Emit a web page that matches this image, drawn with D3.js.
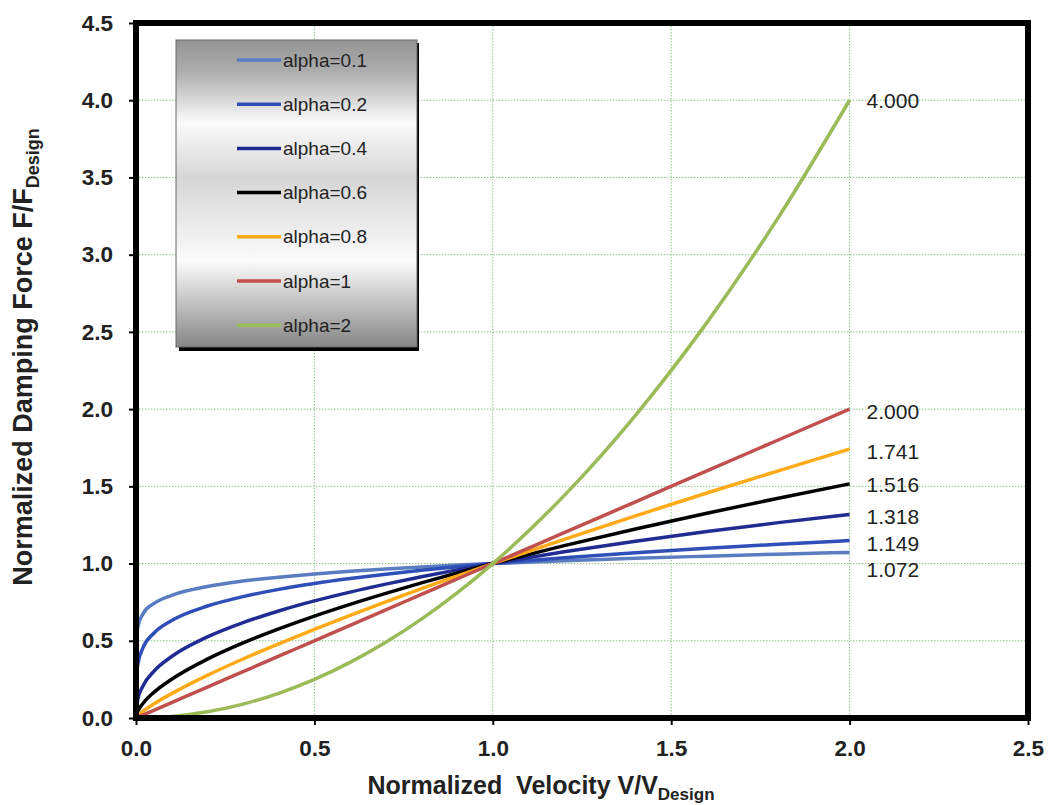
<!DOCTYPE html>
<html>
<head>
<meta charset="utf-8">
<script src="https://cdn.jsdelivr.net/npm/d3@7"></script>
<style>
  body { margin: 0; background: #fff; }
  text { font-family: Arial, "Liberation Sans", sans-serif; }
</style>
</head>
<body>
<svg id="chart" width="1050" height="805"></svg>
<script>
// velocity points read along the x axis
var velocity = [0, 0.001, 0.005, 0.02, 0.05, 0.1, 0.2, 0.3, 0.4, 0.5, 0.6, 0.7, 0.8, 0.9, 1.0, 1.2, 1.4, 1.6, 1.8, 2.0];

// force values
var force01 = [0, 0.50, 0.59, 0.676, 0.741, 0.794, 0.851, 0.887, 0.912, 0.933, 0.950, 0.965, 0.978, 0.990, 1, 1.018, 1.034, 1.048, 1.061, 1.072];
var force02 = [0, 0.25, 0.347, 0.457, 0.549, 0.631, 0.725, 0.786, 0.833, 0.871, 0.903, 0.931, 0.956, 0.979, 1, 1.037, 1.070, 1.099, 1.125, 1.149];
var force04 = [0, 0.063, 0.12, 0.209, 0.302, 0.398, 0.525, 0.618, 0.693, 0.758, 0.815, 0.867, 0.915, 0.959, 1, 1.076, 1.144, 1.207, 1.265, 1.318];
var force06 = [0, 0.016, 0.042, 0.096, 0.166, 0.251, 0.381, 0.486, 0.577, 0.660, 0.736, 0.807, 0.875, 0.939, 1, 1.116, 1.224, 1.326, 1.423, 1.516];
var force08 = [0, 0.004, 0.014, 0.044, 0.091, 0.158, 0.276, 0.382, 0.480, 0.574, 0.665, 0.752, 0.837, 0.919, 1, 1.157, 1.309, 1.457, 1.600, 1.741];
var force1  = [0, 0.001, 0.005, 0.02, 0.05, 0.1, 0.2, 0.3, 0.4, 0.5, 0.6, 0.7, 0.8, 0.9, 1, 1.2, 1.4, 1.6, 1.8, 2.0];
var force2  = [0, 0, 0, 0.0004, 0.0025, 0.01, 0.04, 0.09, 0.16, 0.25, 0.36, 0.49, 0.64, 0.81, 1, 1.44, 1.96, 2.56, 3.24, 4.0];

var seriesNames = ["alpha=0.1", "alpha=0.2", "alpha=0.4", "alpha=0.6", "alpha=0.8", "alpha=1", "alpha=2"];
var seriesColors = ["#5a7cc0", "#2f4fb8", "#202c92", "#000000", "#ffaa16", "#c0504d", "#9bbb59"];
var allForces = [force01, force02, force04, force06, force08, force1, force2];
var endLabels = ["1.072", "1.149", "1.318", "1.516", "1.741", "2.000", "4.000"];

var xTicks = [0, 0.5, 1.0, 1.5, 2.0, 2.5];
var yTicks = [0, 0.5, 1.0, 1.5, 2.0, 2.5, 3.0, 3.5, 4.0, 4.5];

var svg = d3.select("#chart"),
    plotLeft = 136, plotRight = 1028, plotTop = 23, plotBottom = 718;

var x = d3.scaleLinear().domain([0, 2.5]).range([plotLeft, plotRight]);
var y = d3.scaleLinear().domain([0, 4.5]).range([plotBottom, plotTop]);

// grid
var grid = svg.append("g");
grid.selectAll(".gx").data(xTicks.slice(1, -1)).enter().append("line")
    .attr("x1", function(d) { return x(d); }).attr("x2", function(d) { return x(d); })
    .attr("y1", plotTop).attr("y2", plotBottom)
    .attr("stroke", "#8fc48f").attr("stroke-width", 1).attr("stroke-dasharray", "1.5,1.5");
grid.selectAll(".gy").data(yTicks.slice(1, -1)).enter().append("line")
    .attr("y1", function(d) { return y(d); }).attr("y2", function(d) { return y(d); })
    .attr("x1", plotLeft).attr("x2", plotRight)
    .attr("stroke", "#8fc48f").attr("stroke-width", 1).attr("stroke-dasharray", "1.5,1.5");

// curves
var line = d3.line()
    .x(function(d, i) { return x(velocity[i]); })
    .y(function(d) { return y(d); })
    .curve(d3.curveMonotoneX);

svg.append("g").selectAll("path")
    .data(allForces)
    .enter().append("path")
    .attr("d", line)
    .attr("fill", "none")
    .attr("stroke", function(d, i) { return seriesColors[i]; })
    .attr("stroke-width", 3.5);

// end value labels
svg.append("g").selectAll("text")
    .data(allForces)
    .enter().append("text")
    .attr("x", x(2.0) + 17)
    .attr("y", function(d, i) {
        var v = d[d.length - 1];
        // labels nudged apart where the curves crowd
        var shift = [17.5, 2.5, 2, 1, 2.5, 2.5, 0][i];
        return y(v) + 7.5 + shift;
    })
    .attr("font-size", 21).attr("fill", "#222")
    .text(function(d, i) { return endLabels[i]; });

// frame
svg.append("rect")
    .attr("x", plotLeft).attr("y", plotTop)
    .attr("width", plotRight - plotLeft).attr("height", plotBottom - plotTop)
    .attr("fill", "none").attr("stroke", "#000").attr("stroke-width", 6);

// axes
var xAxis = svg.append("g").attr("transform", "translate(0," + plotBottom + ")")
    .call(d3.axisBottom(x).tickValues(xTicks).tickFormat(d3.format(".1f")).tickSize(7).tickPadding(15));
var yAxis = svg.append("g").attr("transform", "translate(" + plotLeft + ",0)")
    .call(d3.axisLeft(y).tickValues(yTicks).tickFormat(d3.format(".1f")).tickSize(7).tickPadding(16));
[xAxis, yAxis].forEach(function(a) {
    a.select(".domain").remove();
    a.selectAll("line").attr("stroke", "#000").attr("stroke-width", 2);
    a.selectAll("text").attr("font-size", 22.5).attr("font-weight", "bold").attr("fill", "#222")
        .attr("font-family", "Arial, 'Liberation Sans', sans-serif");
});

// axis titles
var xt = svg.append("text")
    .attr("x", 541).attr("y", 794).attr("text-anchor", "middle")
    .attr("font-size", 25).attr("font-weight", "bold").attr("fill", "#222")
    .attr("xml:space", "preserve");
xt.append("tspan").text("Normalized  Velocity V/V");
xt.append("tspan").attr("dy", 6).attr("font-size", 17).text("Design");

var yt = svg.append("text")
    .attr("transform", "translate(32,357) rotate(-90)")
    .attr("text-anchor", "middle")
    .attr("font-size", 27).attr("font-weight", "bold").attr("fill", "#222");
yt.append("tspan").text("Normalized Damping Force F/F");
yt.append("tspan").attr("dy", 7).attr("font-size", 18).text("Design");

// legend
var defs = svg.append("defs");
var lg = defs.append("linearGradient").attr("id", "legendGrad")
    .attr("x1", 0).attr("y1", 0).attr("x2", 0).attr("y2", 1);
[["0%", "#959595"], ["10%", "#acacac"], ["27%", "#fbfbfb"], ["45%", "#d6d6d6"], ["72%", "#fbfbfb"], ["100%", "#868686"]]
    .forEach(function(s) { lg.append("stop").attr("offset", s[0]).attr("stop-color", s[1]); });

var legend = svg.append("g");
legend.append("rect").attr("x", 179).attr("y", 43).attr("width", 240).attr("height", 308).attr("fill", "#000");
legend.append("rect").attr("x", 176).attr("y", 40).attr("width", 241).attr("height", 307)
    .attr("fill", "url(#legendGrad)").attr("stroke", "#666").attr("stroke-width", 1);

var items = legend.selectAll(".item").data(seriesNames).enter().append("g")
    .attr("transform", function(d, i) { return "translate(0," + (60 + i * 44.2) + ")"; });
items.append("line").attr("x1", 237).attr("x2", 281).attr("y1", 0).attr("y2", 0)
    .attr("stroke", function(d, i) { return seriesColors[i]; }).attr("stroke-width", 3.5);
items.append("text").attr("x", 283).attr("y", 6.5).attr("font-size", 19).attr("fill", "#222")
    .text(function(d) { return d; });
</script>
</body>
</html>
